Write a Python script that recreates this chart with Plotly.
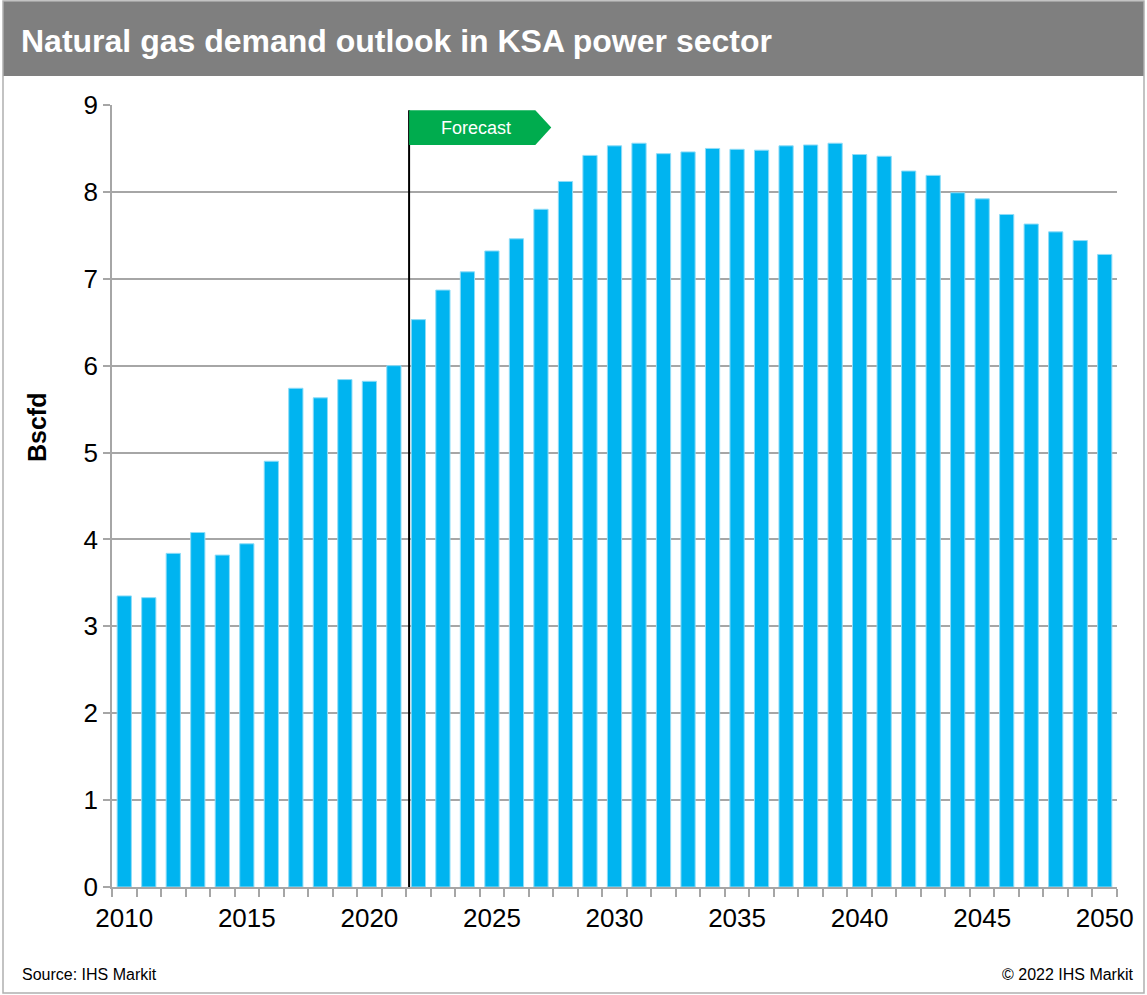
import plotly.graph_objects as go

# ---- data ----
years = list(range(2010, 2051))
demand_bscfd = [
    3.35, 3.33, 3.84, 4.08, 3.82, 3.95, 4.90, 5.74, 5.63, 5.84, 5.82, 6.00,
    6.53, 6.87, 7.08, 7.32, 7.46, 7.80, 8.12, 8.42, 8.53, 8.56, 8.44, 8.46,
    8.50, 8.49, 8.48, 8.53, 8.54, 8.56, 8.43, 8.41, 8.24, 8.19, 7.99, 7.92,
    7.74, 7.63, 7.54, 7.44, 7.28,
]
x_tick_vals = [2010, 2015, 2020, 2025, 2030, 2035, 2040, 2045, 2050]
x_tick_text = [str(v) for v in x_tick_vals]
y_tick_vals = list(range(0, 10))
forecast_start = 2021.62
title_text = "Natural gas demand outlook in KSA power sector"
y_title = "Bscfd"
source_text = "Source: IHS Markit"
copyright_text = "\u00a9 2022 IHS Markit"
forecast_label = "Forecast"

# ---- layout constants ----
W, H = 1147, 995
ML, MR, MT, MB = 112, 30, 105, 108
PW, PH = W - ML - MR, H - MT - MB
FONT = "Arial, Liberation Sans, sans-serif"
GRID = "#A6A6A6"
BAR = "#00B4F0"
GREEN = "#00AC4E"
HEADER = "#7F7F7F"


def px_x(p):  # pixel -> paper x
    return (p - ML) / PW


def px_y(p):  # pixel -> paper y
    return 1 - (p - MT) / PH


fig = go.Figure()
fig.add_trace(go.Bar(
    x=years, y=demand_bscfd, width=0.58,
    marker=dict(color=BAR, line=dict(color="#8EDCF7", width=1)),
    hoverinfo="x+y",
))

# flag geometry (in data units relative to forecast_start)
y_top = 8.94
y_bot = 8.54
body_len = 5.15
tip_len = 0.65
fx0 = forecast_start
fx1 = forecast_start + body_len
fx2 = fx1 + tip_len

shapes = [
    # header band
    dict(type="rect", xref="paper", yref="paper",
         x0=px_x(3), x1=px_x(1144), y0=px_y(76), y1=px_y(1),
         fillcolor=HEADER, line=dict(width=0), layer="below"),
    # outer border
    dict(type="rect", xref="paper", yref="paper",
         x0=px_x(3), x1=px_x(1144), y0=px_y(993), y1=px_y(1),
         fillcolor="rgba(0,0,0,0)", line=dict(color="#B0B0B0", width=1.5)),
    # forecast line
    dict(type="line", xref="x", yref="y", x0=forecast_start, x1=forecast_start,
         y0=0, y1=y_top, line=dict(color="black", width=2), layer="above"),
    # flag
    dict(type="path", xref="x", yref="y",
         path=f"M {fx0},{y_top} L {fx1},{y_top} L {fx2},{(y_top + y_bot) / 2} "
              f"L {fx1},{y_bot} L {fx0},{y_bot} Z",
         fillcolor=GREEN, line=dict(width=0), layer="above"),
]

annotations = [
    dict(text=forecast_label, xref="x", yref="y",
         x=(fx0 + fx1) / 2 + 0.15, y=(y_top + y_bot) / 2, showarrow=False,
         font=dict(family=FONT, size=18, color="white"),
         xanchor="center", yanchor="middle"),
    dict(text=f"<b>{y_title}</b>", xref="paper", yref="paper",
         x=px_x(37), y=px_y(428), showarrow=False, textangle=-90,
         font=dict(family=FONT, size=25, color="black"),
         xanchor="center", yanchor="middle"),
    dict(text=source_text, xref="paper", yref="paper",
         x=px_x(20), y=px_y(974), showarrow=False,
         font=dict(family=FONT, size=16, color="black"),
         xanchor="left", yanchor="middle"),
    dict(text=copyright_text, xref="paper", yref="paper",
         x=px_x(1136), y=px_y(974), showarrow=False,
         font=dict(family=FONT, size=16, color="black"),
         xanchor="right", yanchor="middle"),
]

fig.update_layout(
    width=W, height=H,
    margin=dict(l=ML, r=MR, t=MT, b=MB),
    paper_bgcolor="white", plot_bgcolor="white",
    showlegend=False,
    shapes=shapes,
    annotations=annotations,
    title=dict(text=f"<b>{title_text}</b>", xref="container", yref="container",
               x=21 / W, y=1 - 41 / H, xanchor="left", yanchor="middle",
               font=dict(family=FONT, size=32, color="white")),
    font=dict(family=FONT, color="black"),
)

fig.update_xaxes(
    range=[2009.5, 2050.5], tickmode="array", tickvals=x_tick_vals, ticktext=x_tick_text,
    ticks="", showgrid=False, showline=True, linecolor=GRID, linewidth=1.5,
    tickfont=dict(family=FONT, size=26, color="black"),
    ticklabelstandoff=7,
    minor=dict(tickmode="linear", tick0=2009.5, dtick=1, ticks="outside",
               ticklen=8, tickcolor=GRID, tickwidth=1.5, showgrid=False),
    zeroline=False, fixedrange=True,
)
fig.update_yaxes(
    range=[0, 9], tickmode="array", tickvals=y_tick_vals,
    ticks="outside", ticklen=7, tickcolor=GRID, tickwidth=1.5,
    showgrid=True, gridcolor=GRID, gridwidth=1.5,
    showline=True, linecolor=GRID, linewidth=1.5,
    tickfont=dict(family=FONT, size=26, color="black"),
    zeroline=False, fixedrange=True,
)

fig.write_html("out.html", post_script="document.body.style.margin='0';",
               config={"displayModeBar": False})
